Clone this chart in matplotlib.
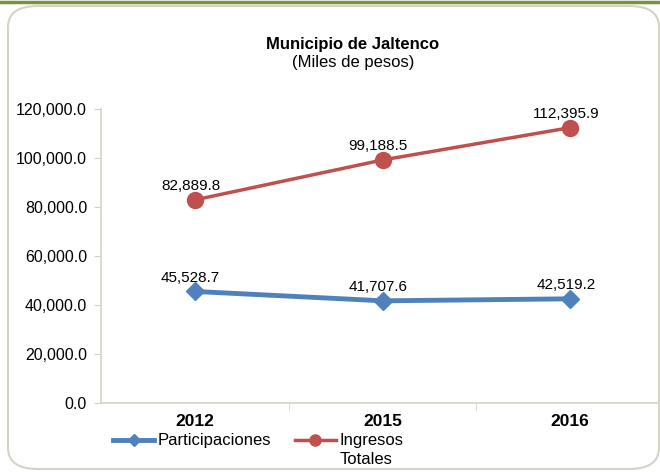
import matplotlib.pyplot as plt
from matplotlib.patches import FancyBboxPatch
from matplotlib.lines import Line2D
from matplotlib.ticker import FuncFormatter

plt.rcParams['font.family'] = ['Liberation Sans', 'DejaVu Sans']

years = ["2012", "2015", "2016"]
participaciones = [45528.7, 41707.6, 42519.2]
ingresos_totales = [82889.8, 99188.5, 112395.9]

BLUE = "#4F81BD"
RED = "#C0504D"
FRAME = "#D4D4C4"

fig = plt.figure(figsize=(6.6, 4.72), dpi=100)

# outer rounded frame and green rule at top
frame = FancyBboxPatch((8 / 660, 3 / 472), 651 / 660, 463 / 472,
                       boxstyle="round,pad=0,rounding_size=0.045",
                       transform=fig.transFigure, facecolor="white",
                       edgecolor=FRAME, linewidth=1.5, zorder=-5)
fig.patches.append(frame)
fig.add_artist(Line2D([0, 1], [1 - 1.5 / 472] * 2, transform=fig.transFigure,
                      color="#77933C", linewidth=2.5))

ax = fig.add_axes([101 / 660, 1 - 403 / 472, 563 / 660, 294 / 472])
ax.set_facecolor("none")
ax.set_zorder(2)
x = range(len(years))
ax.plot(x, participaciones, color=BLUE, linewidth=3.5, marker="D",
        markersize=9.5, zorder=3)
ax.plot(x, ingresos_totales, color=RED, linewidth=2.5, marker="o",
        markersize=11.5, zorder=3)

for xi, v in zip(x, participaciones):
    ax.annotate(f"{v:,.1f}", (xi, v), xytext=(-3, 5), textcoords="offset points",
                ha="center", va="bottom", fontsize=11)
for xi, v in zip(x, ingresos_totales):
    ax.annotate(f"{v:,.1f}", (xi, v), xytext=(-3, 5), textcoords="offset points",
                ha="center", va="bottom", fontsize=11)

ax.set_xlim(-0.5, 2.5)
ax.set_ylim(0, 120000)
ax.set_yticks(range(0, 120001, 20000))
ax.yaxis.set_major_formatter(FuncFormatter(lambda v, p: f"{v:,.1f}"))
ax.set_xticks(list(x))
ax.set_xticklabels(years, fontsize=12.5, fontweight="bold")
ax.set_xticks([0.5, 1.5], minor=True)
ax.tick_params(axis="x", which="major", length=0, pad=8)
ax.tick_params(axis="x", which="minor", length=5, color=FRAME)
ax.tick_params(axis="y", length=5, color=FRAME, labelsize=11.5, pad=5)
for s in ["top", "right"]:
    ax.spines[s].set_visible(False)
for s in ["left", "bottom"]:
    ax.spines[s].set_color(FRAME)
    ax.spines[s].set_linewidth(1.2)

fig.text(353 / 660, 1 - 45 / 472, "Municipio de Jaltenco", ha="center",
         va="center", fontsize=12, fontweight="bold")
fig.text(353 / 660, 1 - 63 / 472, "(Miles de pesos)", ha="center",
         va="center", fontsize=12)

handles = [Line2D([], [], color=BLUE, linewidth=3.5, marker="D", markersize=6),
           Line2D([], [], color=RED, linewidth=2.5, marker="o", markersize=8)]
leg = ax.legend(handles, ["Participaciones", "Ingresos"], loc="center left",
                bbox_to_anchor=(0.021, -0.129), ncol=2, frameon=False,
                fontsize=12, handlelength=2.5, handletextpad=0.2,
                columnspacing=1.4, borderaxespad=0, borderpad=0)

# second line of the "Ingresos Totales" label
fig.canvas.draw()
bb = leg.get_texts()[1].get_window_extent()
fig.text(bb.x0 / fig.bbox.width, (bb.y0 - 4) / fig.bbox.height, "Totales",
         ha="left", va="top", fontsize=12)

fig.savefig("out.png", dpi=100)
